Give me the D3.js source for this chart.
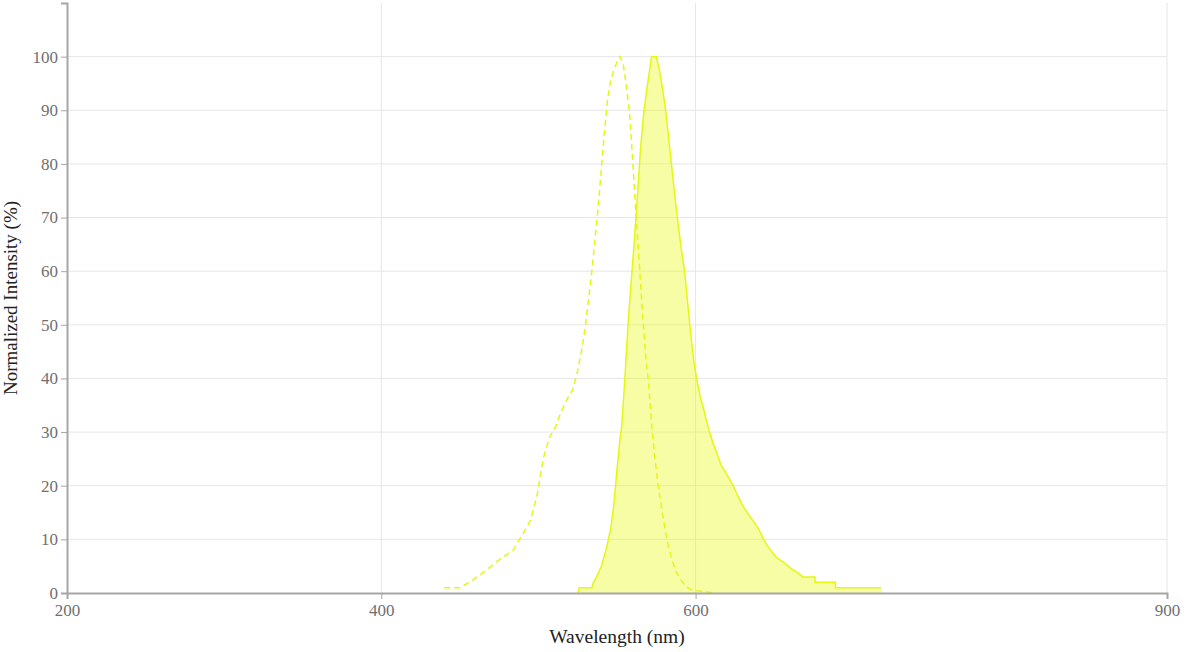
<!DOCTYPE html>
<html><head><meta charset="utf-8">
<script src="https://cdn.jsdelivr.net/npm/d3@7"></script>
<style>body{margin:0;background:#fff;} svg{display:block;}</style>
</head><body>
<svg id="chart" width="1197" height="652"></svg>
<script>
// Excitation spectrum (dashed)
const exWavelength = [440,450,456,461,468,474,479,484,488,491,495,499,503,507,511,514,518,522,525,528,530,532,534,536,538,540,542,544,546,548,550,552,554,556,558,560,562,564,566,568,570,572,574,576,578,580,582,584,586,588,591,594,598,605,612];
const exIntensity  = [1,1,2,3,4.5,6,7,8,10,11.5,13.6,18,25,29,31,33.5,36,38,41.5,46,50,55,60,66,72,79,86,92,95.5,97.5,99,100,98.5,94.5,89.5,80.5,71,62.5,53,45,39.5,31.5,25.5,20.5,16.5,13,9.5,7.2,5.3,3.7,2.3,1.2,0.5,0.3,0];
// Emission spectrum (filled)
const emWavelength = [525,526,534,535,537,540,543,546,548,550,552,553,555,557,559,561,563,565,567,569,571,572,575,577,579,581,583,585,587,589,591,593,595,597,599,601,603,605,607,609,611,613,616,618,621,624,627,630,634,637,640,643,646,649,652,656,659,662,665,668,676,676,689,689,718];
const emIntensity  = [0,1,1,2,3,5,8,12,16.5,23,29,31,40,50,58,65.5,74,83,89.5,94,98,100,100,97.5,94,90,84.5,79,73.5,68.5,64,60,54,48,43,39.5,36.5,34.5,32,30,28,26.5,24,23,21.5,20,18,16.3,14.5,13.3,12,10.2,8.7,7.5,6.5,5.7,5,4.3,3.8,3,3,2,2,1,1];
const xTicks = [200,400,600,900];
const yTicks = [0,10,20,30,40,50,60,70,80,90,100];
const xLabel = "Wavelength (nm)";
const yLabel = "Normalized Intensity (%)";

const svg = d3.select("#chart");
const m = {left:67, right:30, top:3, bottom:59};
const W = 1197, H = 652;
const x = d3.scaleLinear().domain([200,900]).range([m.left, W - m.right]);
const y = d3.scaleLinear().domain([0,110]).range([H - m.bottom, m.top]);

// gridlines
svg.append("g").selectAll("line.h").data(yTicks.slice(1)).join("line")
  .attr("x1", x(200)).attr("x2", x(900)).attr("y1", d=>y(d)).attr("y2", d=>y(d))
  .attr("stroke", "#e6e6e6").attr("stroke-width", 1);
svg.append("g").selectAll("line.v").data(xTicks.slice(1)).join("line")
  .attr("x1", d=>x(d)).attr("x2", d=>x(d)).attr("y1", y(0)).attr("y2", y(110))
  .attr("stroke", "#e6e6e6").attr("stroke-width", 1);

const em = emWavelength.map((w,i)=>[w, emIntensity[i]]);
const ex = exWavelength.map((w,i)=>[w, exIntensity[i]]);

svg.append("path").datum(em)
  .attr("d", d3.area().x(d=>x(d[0])).y0(y(0)).y1(d=>y(d[1])))
  .attr("fill", "rgba(232,250,30,0.4)");
svg.append("path").datum(em)
  .attr("d", d3.line().x(d=>x(d[0])).y(d=>y(d[1])))
  .attr("fill", "none").attr("stroke", "#e4f713").attr("stroke-width", 1.5);
svg.append("path").datum(ex)
  .attr("d", d3.line().x(d=>x(d[0])).y(d=>y(d[1])))
  .attr("fill", "none").attr("stroke", "#e4f713").attr("stroke-width", 1.5)
  .attr("stroke-dasharray", "6,4");

// axes
const xAxis = svg.append("g").attr("transform", `translate(0,${y(0)})`)
  .call(d3.axisBottom(x).tickValues(xTicks).tickFormat(d3.format("d")).tickSizeOuter(0).tickSize(6));
const yAxis = svg.append("g").attr("transform", `translate(${x(200)},0)`)
  .call(d3.axisLeft(y).tickValues(yTicks).tickFormat(d3.format("d")).tickSizeOuter(0).tickSize(6));
[xAxis, yAxis].forEach(a=>{
  a.select(".domain").attr("stroke", "#a6a6a6").attr("stroke-width", 2);
  a.selectAll(".tick line").attr("stroke", "#a6a6a6");
  a.selectAll(".tick text").attr("fill", "#6f6f6f").style("font-family", "'Liberation Serif', serif").style("font-size", "17px");
});
xAxis.selectAll(".tick text").attr("dy", "0.85em");

svg.append("text").attr("x", x(550)).attr("y", 643).attr("text-anchor", "middle")
  .style("font-family", "'Liberation Serif', serif").style("font-size", "19.5px").attr("fill", "#222").text(xLabel);
svg.append("text").attr("transform", `translate(17,${y(55)}) rotate(-90)`).attr("text-anchor", "middle")
  .style("font-family", "'Liberation Serif', serif").style("font-size", "19px").attr("fill", "#222").text(yLabel);
</script>
</body></html>
